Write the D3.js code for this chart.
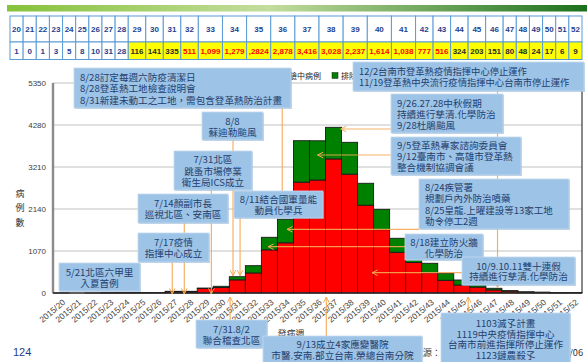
<!DOCTYPE html>
<html>
<head>
<meta charset="utf-8">
<script src="https://cdn.jsdelivr.net/npm/d3@7"></script>
<style>
  html, body { margin: 0; padding: 0; background: #ffffff; }
  svg { display: block; }
</style>
</head>
<body>
<svg id="chart" width="587" height="362"></svg>
<script>
// ---- data -------------------------------------------------------------
// Epidemiological weeks of 2015
const weeks = [20, 21, 22, 23, 24, 25, 26, 27, 28, 29, 30, 31, 32, 33, 34, 35, 36,
               37, 38, 39, 40, 41, 42, 43, 44, 45, 46, 47, 48, 49, 50, 51, 52];
// Confirmed local cases per week (red)
const confirmedCases = [1, 0, 1, 3, 5, 8, 10, 31, 28, 116, 141, 335, 511, 1099, 1279, 2824, 2878,
                        3416, 3028, 2237, 1614, 1038, 777, 516, 324, 203, 151, 80, 48, 24, 17, 6, 9];
// Other reported cases per week (green)
const otherCases = [0, 0, 0, 1, 2, 3, 4, 12, 15, 10, 30, 80, 185, 320, 600, 1056, 1000,
                    805, 811, 558, 518, 356, 240, 241, 178, 128, 53, 40, 12, 6, 3, 2, 1];
// Counts as printed in the summary table
const tableCounts = ["1", "0", "1", "3", "5", "8", "10", "31", "28", "116", "141", "335", "511",
                     "1,099", "1,279", ",2824", "2,878", "3,416", "3,028", "2,237", "1,614", "1,038",
                     "777", "516", "324", "203", "151", "80", "48", "24", "17", "6", "9"];
const yTicks = [0, 1070, 2140, 3210, 4280, 5350];
const legendNames = ["確定病例", "檢驗中病例", "排除病例"];
const seriesKeys = ["confirmed", "other"];

// Event notes (text only)
const notes = [
  ["8/28訂定每週六防疫清潔日", "8/28登革熱工地檢查說明會", "8/31新建未動工之工地，需包含登革熱防治計畫"],
  ["8/8", "蘇迪勒颱風"],
  ["7/31北區", "跳蚤市場停業", "衛生局ICS成立"],
  ["7/14顏副市長", "巡視北區、安南區"],
  ["8/11結合國軍量能", "動員化學兵"],
  ["7/17疫情", "指揮中心成立"],
  ["5/21北區六甲里", "入夏首例"],
  ["7/31.8/2", "聯合稽查北區"],
  ["9/13成立4家應變醫院", "市醫.安南.部立台南.榮總台南分院"],
  ["1103滅孓計畫", "1119中央疫情指揮中心", "台南市前進指揮所停止運作", "1123鏈農殺孓"],
  ["12/2台南市登革熱疫情指揮中心停止運作", "11/19登革熱中央流行疫情指揮中心台南市停止運作"],
  ["9/26.27.28中秋假期", "持續進行孳清.化學防治", "9/28杜鵑颱風"],
  ["9/5登革熱專家諮詢委員會", "9/12臺南市、高雄市登革熱", "整合機制協調會議"],
  ["8/24疾管署", "規劃戶內外防治噴藥", "8/25皇龍.上曜建設等13家工地", "勒令停工2週"],
  ["8/18建立防火牆", "化學防治"],
  ["10/9.10.11雙十連假", "持續進行孳清.化學防治"]
];

// ---- layout -----------------------------------------------------------
const W = 587, H = 362;
const plot = { left: 53, right: 582, top: 83, bottom: 293 };
const cjk = "'Noto Sans CJK TC', 'Noto Sans', sans-serif";
const latin = "'Liberation Sans', Arial, sans-serif";

// note boxes: [x, y, width, height, line step, align, font size]
const noteBoxes = [
  [74, 68, 217, 40, 11.5, "start", 9.6],
  [202, 112, 61, 28, 11, "middle", 9.6],
  [174, 151, 78, 39, 11.5, "middle", 9.6],
  [138, 194, 90, 29, 11, "middle", 9.6],
  [234, 191, 89, 27, 11, "middle", 9.6],
  [138, 233, 71, 29, 11, "middle", 9.6],
  [59, 263, 81, 28, 11, "middle", 9.6],
  [196, 320, 71, 28, 11, "middle", 9.6],
  [263, 336, 159, 27, 10.5, "middle", 9.6],
  [441, 313, 129, 52, 10.7, "middle", 9.6],
  [353, 62, 231, 29, 10.5, "start", 9.3],
  [391, 94, 112, 39, 11, "start", 9.6],
  [391, 137, 130, 38, 11, "start", 9.6],
  [419, 179, 150, 50, 11.3, "start", 9.5],
  [405, 234, 78, 26, 11, "middle", 9.6],
  [462, 257, 113, 28, 10.5, "middle", 9.6]
];

const svg = d3.select("#chart");
const labels = weeks.map(w => "2015/" + w);
const rows = labels.map((w, i) => ({ week: w, confirmed: confirmedCases[i], other: otherCases[i] }));
const totals = rows.map(r => r.confirmed + r.other);

const x = d3.scaleBand().domain(labels).range([plot.left, plot.right]).padding(0);
const y = d3.scaleLinear().domain([0, 5350]).range([plot.bottom, plot.top]);

// ---- header bar -------------------------------------------------------
const defs = svg.append("defs");
const grad = defs.append("linearGradient").attr("id", "headGrad");
grad.append("stop").attr("offset", "0%").attr("stop-color", "#86c23a");
grad.append("stop").attr("offset", "45%").attr("stop-color", "#c3dd9c");
grad.append("stop").attr("offset", "100%").attr("stop-color", "#1b701b");
svg.append("rect").attr("x", 7).attr("y", 5).attr("width", W - 7).attr("height", 6.5)
  .attr("fill", "url(#headGrad)");

// ---- weekly table -----------------------------------------------------
const tableLeft = 10, tableRight = 582;
const row1Top = 16, row2Top = 42, rowBottom = 59.5;
const rawW = tableCounts.map(s => {
  const digits = s.replace(/,/g, "").length;
  const commas = s.length - digits;
  return Math.max(13.5, digits * 4.5 + commas * 2.3 + 4.5);
});
const cum = d3.cumsum(rawW);
const colX = d3.scaleLinear().domain([0, cum[cum.length - 1]]).range([tableLeft, tableRight]);
const cols = weeks.map((w, i) => ({
  week: w, count: tableCounts[i], value: confirmedCases[i],
  x0: colX(i === 0 ? 0 : cum[i - 1]), x1: colX(cum[i])
}));
const table = svg.append("g");
const cellStroke = "#5b9bd5";
table.selectAll("rect.r1").data(cols).join("rect")
  .attr("x", d => d.x0).attr("y", row1Top).attr("width", d => d.x1 - d.x0).attr("height", row2Top - row1Top)
  .attr("fill", "#ffffff").attr("stroke", cellStroke).attr("stroke-width", 1);
table.selectAll("rect.r2").data(cols).join("rect")
  .attr("x", d => d.x0).attr("y", row2Top).attr("width", d => d.x1 - d.x0).attr("height", rowBottom - row2Top)
  .attr("fill", d => d.week >= 29 ? "#ffff00" : "#ffffff").attr("stroke", cellStroke).attr("stroke-width", 1);
table.selectAll("text.wk").data(cols).join("text")
  .attr("x", d => (d.x0 + d.x1) / 2).attr("y", (row1Top + row2Top) / 2 + 0.5)
  .attr("text-anchor", "middle").attr("dominant-baseline", "central")
  .attr("font-family", latin).attr("font-weight", "bold").attr("font-size", 8)
  .attr("fill", "#243f8f").text(d => d.week);
table.selectAll("text.ct").data(cols).join("text")
  .attr("x", d => (d.x0 + d.x1) / 2).attr("y", (row2Top + rowBottom) / 2 + 0.5)
  .attr("text-anchor", "middle").attr("dominant-baseline", "central")
  .attr("font-family", latin).attr("font-weight", "bold").attr("font-size", 8)
  .attr("fill", d => d.value >= 500 ? "#ff0000" : (d.week >= 29 ? "#2a2a2a" : "#243f8f"))
  .text(d => d.count);

// ---- gridlines --------------------------------------------------------
svg.append("g").selectAll("line").data(yTicks.filter(t => t > 0)).join("line")
  .attr("x1", plot.left).attr("x2", plot.right)
  .attr("y1", d => y(d)).attr("y2", d => y(d))
  .attr("stroke", "#d6d6d6").attr("stroke-width", 1.4);

// ---- stacked bars -----------------------------------------------------
const colors = { confirmed: "#ff0000", other: "#008000" };
const stacked = d3.stack().keys(seriesKeys)(rows);
svg.append("g").selectAll("g").data(stacked).join("g")
  .attr("fill", d => colors[d.key])
  .selectAll("rect").data(d => d).join("rect")
  .attr("x", d => x(d.data.week)).attr("width", x.bandwidth())
  .attr("y", d => y(d[1])).attr("height", d => y(d[0]) - y(d[1]))
  .attr("stroke", "#1a1a1a").attr("stroke-width", 0.9);

// plot frame
svg.append("line").attr("x1", plot.left).attr("x2", plot.left).attr("y1", plot.top).attr("y2", plot.bottom)
  .attr("stroke", "#8a8a8a").attr("stroke-width", 2.4);
svg.append("line").attr("x1", plot.right).attr("x2", plot.right).attr("y1", plot.top).attr("y2", plot.bottom)
  .attr("stroke", "#3a3a3a").attr("stroke-width", 1.2);
svg.append("line").attr("x1", plot.left).attr("x2", plot.right).attr("y1", plot.bottom).attr("y2", plot.bottom)
  .attr("stroke", "#2a2a2a").attr("stroke-width", 1.5);

// ---- axes -------------------------------------------------------------
const yAxis = svg.append("g").attr("transform", `translate(${plot.left},0)`)
  .call(d3.axisLeft(y).tickValues(yTicks).tickSize(0).tickPadding(7).tickFormat(d3.format("d")));
yAxis.select(".domain").remove();
yAxis.selectAll("text").attr("font-family", latin).attr("font-size", 8).attr("fill", "#404040");

const xAxis = svg.append("g").attr("transform", `translate(0,${plot.bottom})`)
  .call(d3.axisBottom(x).tickSize(0));
xAxis.select(".domain").remove();
xAxis.selectAll("text")
  .attr("x", 0).attr("y", 0).attr("dy", "0.35em")
  .attr("transform", "translate(3,8) rotate(-40)")
  .attr("text-anchor", "end")
  .attr("font-family", latin).attr("font-size", 8.5).attr("fill", "#404040");

// y-axis title, stacked vertically
svg.append("g").selectAll("text").data(["病", "例", "數"]).join("text")
  .attr("x", 20).attr("y", (d, i) => 193 + i * 14.5)
  .attr("text-anchor", "middle").attr("dominant-baseline", "central")
  .attr("font-family", cjk).attr("font-size", 9).attr("fill", "#333").text(d => d);

// x-axis title
svg.append("text").attr("x", 291).attr("y", 337).attr("text-anchor", "middle")
  .attr("font-family", cjk).attr("font-size", 9).attr("fill", "#333").text("發病週");

// ---- legend -----------------------------------------------------------
const legendColors = ["#ff0000", "#ffc000", "#008000"];
const legendX = [220, 272, 332];
const legend = svg.append("g");
legendNames.forEach((name, i) => {
  legend.append("rect").attr("x", legendX[i]).attr("y", 72.5).attr("width", 6).attr("height", 6)
    .attr("fill", legendColors[i]).attr("stroke", "#222").attr("stroke-width", 0.5);
  legend.append("text").attr("x", legendX[i] + 9).attr("y", 75.5).attr("dominant-baseline", "central")
    .attr("font-family", cjk).attr("font-size", 8).attr("fill", "#222").text(name);
});

// ---- source line and page number -------------------------------------
svg.append("text").attr("x", 583).attr("y", 356).attr("text-anchor", "end")
  .attr("font-family", cjk).attr("font-size", 9.2).attr("fill", "#333")
  .text("資料來源：衛生福利部疾病管制署 2016/01/06");
svg.append("text").attr("x", 13).attr("y", 356)
  .attr("font-family", latin).attr("font-size", 11).attr("fill", "#1f3c88").text("124");

// ---- pointers from notes to weeks ------------------------------------
const arrowColor = "#f3a954";
defs.append("marker").attr("id", "tip").attr("viewBox", "0 0 10 10")
  .attr("refX", 9).attr("refY", 5).attr("markerWidth", 7).attr("markerHeight", 7)
  .attr("markerUnits", "userSpaceOnUse").attr("orient", "auto")
  .append("path").attr("d", "M1,1 L9,5 L1,9").attr("fill", "none")
  .attr("stroke", arrowColor).attr("stroke-width", 1.4);

// [week, position within band, kind, from]
//   kind "top": vertical, ends on the stack top; "axis": vertical, ends on baseline;
//   "up": vertical from below the axis; "side": horizontal at a fixed height
const pointers = [
  [34, 0.30, "top", 108],
  [31, 0.23, "top", 140],
  [31, 0.67, "top", 218],
  [29, 0.88, "axis", 190],
  [28, 0.19, "axis", 223],
  [27, 0.44, "axis", 262],
  [47, 0.73, "top", 91],
  [33, 0.42, "side", [405, 246.7]],
  [34, 0.60, "side", [419, 229.3]],
  [36, 0.50, "side", [391, 155]],
  [37, 0.95, "side", [391, 129]],
  [39, 0.90, "side", [462, 272.7]],
  [45, 0.90, "up", 313],
  [37, 0.05, "up", 336],
  [31, 0.05, "up", 320]
];
const arrows = svg.append("g");
pointers.forEach(([wk, f, kind, from]) => {
  const i = weeks.indexOf(wk);
  const tx = x(labels[i]) + x.bandwidth() * f;
  let x1, y1, x2, y2;
  if (kind === "top") { x1 = tx; y1 = from; x2 = tx; y2 = y(totals[i]) - 1; }
  else if (kind === "axis") { x1 = tx; y1 = from; x2 = tx; y2 = y(0) + 1; }
  else if (kind === "up") { x1 = tx; y1 = from; x2 = tx; y2 = y(0) + 4; }
  else { x1 = from[0]; y1 = from[1]; x2 = tx; y2 = from[1]; }
  arrows.append("line").attr("x1", x1).attr("y1", y1).attr("x2", x2).attr("y2", y2)
    .attr("stroke", arrowColor).attr("stroke-width", 1.2).attr("stroke-opacity", 0.9)
    .attr("marker-end", "url(#tip)");
});

// ---- note boxes -------------------------------------------------------
const boxes = svg.append("g");
notes.forEach((lines, k) => {
  const [bx, by, bw, bh, step, align, fs] = noteBoxes[k];
  const g = boxes.append("g");
  g.append("rect").attr("x", bx + 1).attr("y", by + 1).attr("width", bw).attr("height", bh)
    .attr("fill", "#86a9cc").attr("opacity", 0.55);
  g.append("rect").attr("x", bx).attr("y", by).attr("width", bw).attr("height", bh)
    .attr("fill", "#9dc3e6").attr("stroke", "#c3d9ef").attr("stroke-width", 0.8);
  const cy = by + bh / 2;
  const tx = align === "start" ? bx + 6 : bx + bw / 2;
  g.selectAll("text").data(lines).join("text")
    .attr("x", tx)
    .attr("y", (d, i) => cy + (i - (lines.length - 1) / 2) * step)
    .attr("text-anchor", align).attr("dominant-baseline", "central")
    .attr("font-family", cjk).attr("font-size", fs).attr("fill", "#243f6e")
    .text(d => d);
});
</script>
</body>
</html>
